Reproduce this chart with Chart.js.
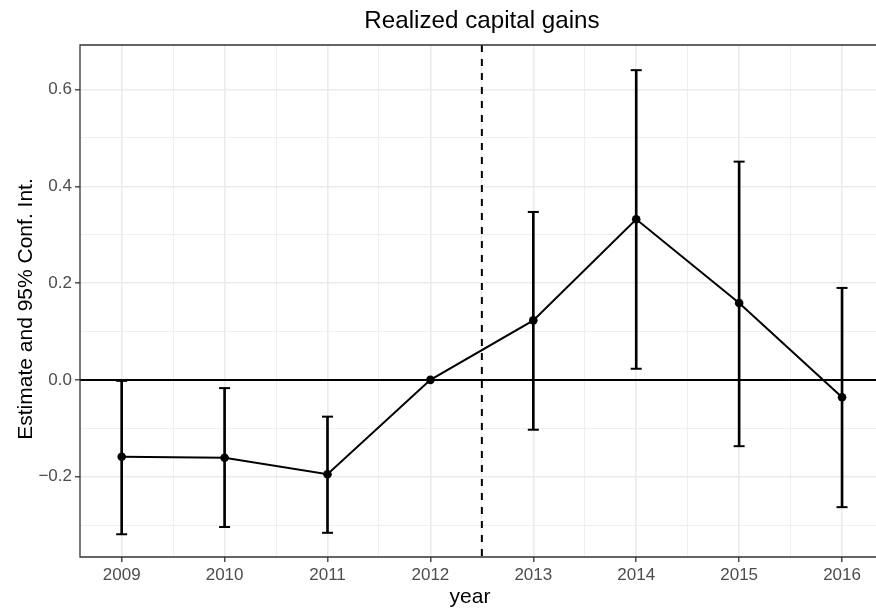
<!DOCTYPE html>
<html>
<head>
<meta charset="utf-8">
<script src="https://cdn.jsdelivr.net/npm/chart.js@4.4.1/dist/chart.umd.min.js"></script>
<style>
  html, body { margin: 0; padding: 0; background: #ffffff; }
  #wrap { width: 876px; height: 614px; position: relative; }
</style>
</head>
<body>
<div id="wrap"><canvas id="c" width="876" height="614"></canvas></div>
<script>
// ---- data ----
const titleText = 'Realized capital gains';
const xTitle = 'year';
const yTitle = 'Estimate and 95% Conf. Int.';
const years = [2009, 2010, 2011, 2012, 2013, 2014, 2015, 2016];
const estimate = [-0.159, -0.161, -0.195, 0.0, 0.123, 0.332, 0.159, -0.036];
const ciLow = [-0.319, -0.304, -0.316, null, -0.103, 0.023, -0.137, -0.263];
const ciHigh = [-0.002, -0.017, -0.076, null, 0.347, 0.640, 0.451, 0.190];
const xMajor = [2009, 2010, 2011, 2012, 2013, 2014, 2015, 2016];
const xMinor = [2009.5, 2010.5, 2011.5, 2012.5, 2013.5, 2014.5, 2015.5];
const yMajor = [-0.2, 0.0, 0.2, 0.4, 0.6];
const yMinor = [-0.3, -0.1, 0.1, 0.3, 0.5];
const refLineY = 0;
const refLineX = 2012.5;

const FONT = "'Liberation Sans', Arial, Helvetica, sans-serif";
const GRID = '#EBEBEB';
const DARK = '#333333';
const TICKTXT = '#4D4D4D';

const isMajor = (list, v) => list.some(m => Math.abs(m - v) < 1e-9);

const linePts = years.map((x, i) => ({ x: x, y: estimate[i] }));
const barPts = [];
const lowPts = [];
const highPts = [];
years.forEach((x, i) => {
  if (ciLow[i] === null || ciHigh[i] === null) return;
  barPts.push({ x: x, y: [ciLow[i], ciHigh[i]] });
  lowPts.push({ x: x, y: ciLow[i] });
  highPts.push({ x: x, y: ciHigh[i] });
});

const decor = {
  id: 'decor',
  beforeDatasetsDraw(chart) {
    const { ctx, chartArea: a, scales: { x, y } } = chart;
    ctx.save();
    // horizontal reference line
    const py = y.getPixelForValue(refLineY);
    ctx.strokeStyle = '#000000';
    ctx.lineWidth = 2;
    ctx.beginPath(); ctx.moveTo(a.left, py); ctx.lineTo(a.right, py); ctx.stroke();
    // dashed vertical line
    const px = x.getPixelForValue(refLineX);
    ctx.setLineDash([7, 7]);
    ctx.lineWidth = 2;
    ctx.beginPath(); ctx.moveTo(px, a.top); ctx.lineTo(px, a.bottom); ctx.stroke();
    ctx.restore();
  },
  afterDraw(chart) {
    const { ctx, chartArea: a } = chart;
    ctx.save();
    // panel border (left, top, bottom; right edge lies outside the canvas)
    ctx.strokeStyle = DARK;
    ctx.lineWidth = 1.3;
    ctx.beginPath();
    ctx.moveTo(a.right + 10, a.top); ctx.lineTo(a.left, a.top);
    ctx.lineTo(a.left, a.bottom); ctx.lineTo(a.right + 10, a.bottom);
    ctx.stroke();
    // title
    ctx.fillStyle = '#000000';
    ctx.textAlign = 'center';
    ctx.textBaseline = 'alphabetic';
    ctx.font = '24.2px ' + FONT;
    ctx.fillText(titleText, 482, 28);
    // x axis title
    ctx.font = '21px ' + FONT;
    ctx.fillText(xTitle, 470, 603);
    // y axis title
    ctx.translate(32, 309);
    ctx.rotate(-Math.PI / 2);
    ctx.fillText(yTitle, 0, 0);
    ctx.restore();
  }
};

new Chart(document.getElementById('c'), {
  type: 'scatter',
  data: {
    datasets: [
      {
        type: 'line', data: linePts, borderColor: '#000000', borderWidth: 2,
        pointRadius: 4.3, pointBackgroundColor: '#000000', pointBorderColor: '#000000',
        pointBorderWidth: 0, tension: 0, fill: false, order: 1
      },
      {
        type: 'bar', data: barPts, backgroundColor: '#000000', borderWidth: 0,
        barThickness: 2, grouped: false, order: 2
      },
      {
        type: 'scatter', data: lowPts, pointStyle: 'line', pointRadius: 5.5,
        borderColor: '#000000', pointBorderWidth: 2, borderWidth: 2, showLine: false, order: 3
      },
      {
        type: 'scatter', data: highPts, pointStyle: 'line', pointRadius: 5.5,
        borderColor: '#000000', pointBorderWidth: 2, borderWidth: 2, showLine: false, order: 4
      }
    ]
  },
  options: {
    responsive: false,
    animation: false,
    events: [],
    layout: { autoPadding: false, padding: { top: 45, right: 0, left: 0, bottom: 0 } },
    plugins: { legend: { display: false }, tooltip: { enabled: false }, title: { display: false } },
    scales: {
      x: {
        type: 'linear', min: 2008.595, max: 2016.33, offset: false,
        afterFit: s => { s.height = 57; s.paddingLeft = 0; s.paddingRight = 0; },
        afterBuildTicks: s => { s.ticks = xMajor.concat(xMinor).sort((a, b) => a - b).map(v => ({ value: v })); },
        grid: {
          offset: false,
          color: c => GRID,
          lineWidth: c => (c.tick && isMajor(xMajor, c.tick.value)) ? 1.6 : 0.8,
          tickColor: c => (c.tick && isMajor(xMajor, c.tick.value)) ? DARK : 'rgba(0,0,0,0)',
          tickLength: 5, tickWidth: 1.3
        },
        border: { display: false },
        ticks: {
          autoSkip: false, maxRotation: 0, padding: 3, color: TICKTXT,
          font: { family: FONT, size: 17 },
          callback: v => isMajor(xMajor, v) ? String(v) : ''
        },
        title: { display: false }
      },
      y: {
        type: 'linear', min: -0.366, max: 0.692,
        afterFit: s => { s.width = 80; s.paddingTop = 0; s.paddingBottom = 0; },
        afterBuildTicks: s => { s.ticks = yMajor.concat(yMinor).sort((a, b) => a - b).map(v => ({ value: v })); },
        grid: {
          color: c => GRID,
          lineWidth: c => (c.tick && isMajor(yMajor, c.tick.value)) ? 1.6 : 0.8,
          tickColor: c => (c.tick && isMajor(yMajor, c.tick.value)) ? DARK : 'rgba(0,0,0,0)',
          tickLength: 5, tickWidth: 1.3
        },
        border: { display: false },
        ticks: {
          autoSkip: false, padding: 3, color: TICKTXT,
          font: { family: FONT, size: 17 },
          callback: v => isMajor(yMajor, v) ? (v < 0 ? '\u2212' + Math.abs(v).toFixed(1) : v.toFixed(1)) : ''
        },
        title: { display: false }
      }
    }
  },
  plugins: [decor]
});
</script>
</body>
</html>
